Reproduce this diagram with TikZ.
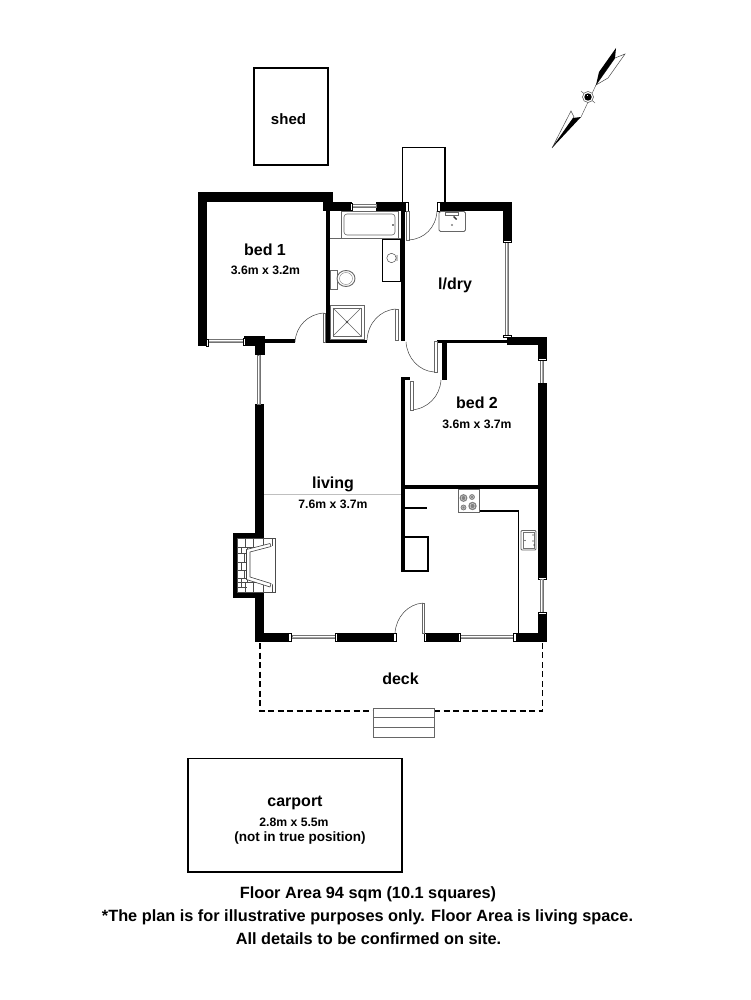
\documentclass[tikz,border=0pt]{standalone}
\usepackage{fontspec}
\setmainfont{Liberation Sans}
\tikzset{
  win/.style={draw=black!55,line width=0.7pt,fill=white},
  wcap/.style={draw=black,line width=0.5pt,fill=white},
  leaf/.style={draw=black!60,line width=0.6pt,fill=white},
  swing/.style={draw=black!75,line width=0.5pt},
  fixture/.style={draw=black!60,line width=0.9pt,fill=white},
  outline/.style={draw=black,line width=1.7pt},
  room/.style={font=\bfseries\fontsize{16}{18}\selectfont,inner sep=0pt,anchor=base},
  sub/.style={font=\bfseries\fontsize{12.2}{14}\selectfont,inner sep=0pt,anchor=base},
  foot/.style={font=\bfseries\fontsize{16.3}{18}\selectfont,inner sep=0pt,anchor=base},
  brick/.style={draw=black!70,line width=0.4pt}
}
\newcommand{\wallrect}[4]{\fill[black] (#1,#2) rectangle (#3,#4);}
\newcommand{\hwin}[3]{\draw[win] (#1,#3-1.6) rectangle (#2,#3+1.6);\draw[black!35,line width=0.3pt] (#1,#3) -- (#2,#3);}
\newcommand{\vwin}[3]{\draw[win] (#3-1.6,#1) rectangle (#3+1.6,#2);\draw[black!35,line width=0.3pt] (#3,#1) -- (#3,#2);}
\begin{document}
\begin{tikzpicture}[x=1pt,y=-1pt]
\useasboundingbox (0,0) rectangle (750,1000);
\fill[white] (0,0) rectangle (750,1000);
% shed and passage
\draw[outline] (254,68) rectangle (328,165);
\draw[line width=1.3pt] (402.5,202) -- (402.5,147.5) -- (445,147.5) -- (445,202);
% bed 1 walls
\wallrect{198}{192}{333}{202}
\wallrect{198}{192}{207}{346}
\wallrect{323}{202}{352}{211}
\wallrect{326}{202}{330}{343}
\wallrect{244}{336}{260}{346}
\wallrect{255}{336}{265}{355}
\wallrect{260}{339}{295}{343}
\wallrect{325}{339.5}{367}{343}
\hwin{208}{244}{341}
\draw[wcap] (206,339) rectangle (208.5,346);
\draw[wcap] (243,338) rectangle (245,345);
% top of bath / laundry
\wallrect{376}{202}{405}{211}
\hwin{352}{376}{206}
\draw[wcap] (350.5,203) rectangle (352.5,210);
\draw[wcap] (405,202) rectangle (408,211);
\wallrect{437}{202}{512}{211}
\draw[wcap] (437,202) rectangle (440,211);
\wallrect{503}{202}{512}{240}
\vwin{241}{335}{507}
\draw[wcap] (503,240) rectangle (511,242);
\draw[wcap] (503,335) rectangle (511,337);
% centre wall
\wallrect{400.5}{202}{404.5}{341}
\wallrect{401}{377}{405}{572}
\wallrect{401}{377}{410}{380}
% laundry / bed 2 walls
\wallrect{437}{340}{507}{343}
\wallrect{507}{337}{547}{345}
\wallrect{538}{337}{547}{358}
\wallrect{442}{341}{447}{380}
\vwin{359}{383}{542}
\draw[wcap] (538,358) rectangle (546,360);
\wallrect{538}{383}{547}{578}
\draw[wcap] (538,577) rectangle (546,579);
\vwin{579}{613}{542}
\draw[wcap] (538,612) rectangle (546,614);
\wallrect{538}{614}{547}{642}
% kitchen
\wallrect{401}{485}{538}{489}
\wallrect{405}{507}{427}{509}
\draw[line width=2pt] (405,537) -- (427.5,537) -- (427.5,570.5) -- (403,570.5);
\draw[line width=1.3pt] (479,489) -- (479,511) -- (518.5,511) -- (518.5,633);
% stove
\draw[fixture] (458,489.5) rectangle (479,512.5);
\foreach \cx/\cy/\r in {463.5/498/3.9,472/497/2.9,463.5/507.5/2.9,472.5/506/4.2}{
  \fill[black!50] (\cx,\cy) circle (\r);
  \draw[white,line width=0.3pt] (\cx,\cy) circle (\r*0.6);
}
% sink kitchen
\draw[fixture,rounded corners=1pt] (521,530.5) rectangle (536,550);
\draw[black!55,line width=0.5pt] (523,532) rectangle (534.5,548.5);
\fill[black] (525,540.5) circle (0.6);
\fill[black] (533,535) circle (0.7) (533,541) circle (0.7) (534,545) circle (0.7);
% left wall + fireplace
\wallrect{255}{404}{264}{642}
\vwin{355}{404}{259}
\wallrect{232.5}{532.5}{255}{598}
\wallrect{255}{633}{291}{642}
\draw[fill=white,draw=black!70,line width=0.6pt] (237.5,538) rectangle (275,592);
\foreach \y in {547,553,562,570,578,587}{\draw[brick] (237.5,\y) -- (247,\y);}
\foreach \x in {245,253,263,272}{\draw[brick] (\x,538) -- (\x,548);\draw[brick] (\x,582) -- (\x,592);}
\draw[brick] (241,547) -- (241,553) (244,553) -- (244,562) (241,562) -- (241,570) (244,570) -- (244,578) (241,578) -- (241,587);
\draw[brick] (237.5,547) -- (270,547) (237.5,582) -- (275,582);
\draw[brick] (247,548) -- (247,582);
\fill[white] (248,552) -- (275,545.5) -- (275,585) -- (248,577) -- cycle;
\draw[draw=black!75,line width=0.6pt,fill=white] (246.5,549.5) -- (270,543.5) -- (271,546.5) -- (250,552) -- (250,577) -- (271,583.5) -- (270,587) -- (246.5,579.5) -- cycle;
\draw[draw=black!70,line width=0.6pt] (275,538) -- (275,592);
% bottom walls and windows
\hwin{292}{335}{637}
\draw[wcap] (288.5,633) rectangle (291,641);
\draw[wcap] (335,633) rectangle (337.5,641);
\wallrect{337}{633}{395}{642}
\draw[wcap] (393,633) rectangle (396,641);
\wallrect{425}{633}{458}{642}
\draw[wcap] (424,633) rectangle (426.5,641);
\hwin{460}{513}{637}
\draw[wcap] (458,633) rectangle (460,641);
\draw[wcap] (513,633) rectangle (516,641);
\wallrect{516}{633}{547}{642}
% doors
\draw[swing] (295,342) .. controls (296,326) and (308,314) .. (324,313);
\draw[leaf] (323.5,313) rectangle (325.5,342);
\draw[swing] (367,340) .. controls (368,323) and (380,310) .. (396,309);
\draw[leaf] (395.5,309) rectangle (398,340);
\draw[leaf] (406,211) rectangle (409,240);
\draw[swing] (409,240) .. controls (424,239) and (436,228) .. (437,211);
\draw[swing] (406,342) .. controls (407,358) and (419,371) .. (434,372);
\draw[leaf] (434,341) rectangle (437,372);
\draw[swing] (441,380) .. controls (440,396) and (428,409) .. (411,410);
\draw[leaf] (410,381) rectangle (413,410);
\draw[swing] (395,633) .. controls (396,617) and (408,604) .. (423,603);
\draw[leaf] (422,603) rectangle (424.5,633);
% bathroom fixtures
\draw[fixture] (341,211.5) rectangle (398,238);
\draw[black!60,line width=0.6pt] (330,238) -- (400.5,238);
\draw[black!60,line width=0.6pt,rounded corners=3pt] (344,214) rectangle (395,235);
\fill[black] (393,225) circle (0.8);
\draw[black,line width=1.2pt] (382.5,239.5) rectangle (401,281.5);
\draw[black!70,line width=0.5pt] (391.5,258) circle (4.7);
\fill[black] (397,256) circle (0.7) (397,258) circle (0.7) (397,260) circle (0.7);
\draw[fixture] (330,270) rectangle (337,289);
\draw[fixture] (346,278.5) ellipse (9 and 8);
\draw[black!50,line width=0.4pt] (346,278.5) ellipse (6.5 and 6);
\draw[fixture] (330.5,305) rectangle (364,339);
\draw[black!60,line width=0.5pt] (333,308) rectangle (361,336);
\draw[black!60,line width=0.4pt] (333,308) -- (361,336) (361,308) -- (333,336);
\fill[black!70] (347,322) circle (1.3);
% laundry sink
\draw[fixture,rounded corners=1.5pt] (439,211.5) rectangle (465.5,231.5);
\draw[black!60,line width=0.5pt] (445,212) rectangle (458,215);
\fill[black!80] (454,216) -- (457,219) -- (456,220) -- (453,217) -- cycle;
\fill[black!50] (452,225) circle (1.2);
% living thin line
\draw[black!25,line width=0.4pt] (264,494) -- (401,494);
% deck
\draw[black,line width=1.4pt,dash pattern=on 6pt off 3.5pt] (260,643) -- (260,711) -- (373,711);
\draw[black,line width=1.4pt,dash pattern=on 6pt off 3.5pt] (434,711) -- (542.5,711) -- (542.5,643);
\draw[black!60,line width=1pt,fill=white] (373.5,708.5) rectangle (434,737.5);
\draw[black!60,line width=1pt] (373.5,717.5) -- (434,717.5) (373.5,727.5) -- (434,727.5);
% carport
\draw[outline] (188,758.5) rectangle (402,872);
% compass
\draw[black!70,line width=0.4pt] (581,117) -- (596,85);
\draw[black!70,line width=0.5pt,fill=white] (625,54) -- (608,78) -- (596,85) -- (615,58) -- cycle;
\fill[black] (616,48) -- (599,72) -- (596,85) -- (615,58) -- cycle;
\draw[black!70,line width=0.5pt,fill=white] (552,148) -- (571,111) -- (574,117) -- cycle;
\fill[black] (552,148) -- (581,117) -- (573,118) -- cycle;
\draw[black!70,line width=0.4pt] (581,91) -- (595,103);
\draw[black!70,line width=0.5pt,fill=white] (588,97) circle (5.5);
\fill[black] (588,97) circle (3.7);
\fill[white] (586.5,95) rectangle (588,96.5);
% text
\node[sub,font=\bfseries\fontsize{15}{17}\selectfont] (shedlbl) at (288.5,125) {shed};
\node[room] (bedone) at (265,255) {bed 1};
\node[sub] (bedonedim) at (265.5,274) {3.6m x 3.2m};
\node[room] (ldry) at (455,289) {l/dry};
\node[room] (bedtwo) at (477,408.5) {bed 2};
\node[sub] (bedtwodim) at (477,428) {3.6m x 3.7m};
\node[room] (living) at (333,488) {living};
\node[sub] (livingdim) at (333,508) {7.6m x 3.7m};
\node[room] (deck) at (400.5,684) {deck};
\node[room] (carport) at (295,806.5) {carport};
\node[sub] (cardim) at (294,826) {2.8m x 5.5m};
\node[sub,font=\bfseries\fontsize{13.5}{15}\selectfont] (carnote) at (300,841.5) {(not in true position)};
\node[foot] (f1) at (368,898) {Floor Area 94 sqm (10.1 squares)};
\node[foot] (f2) at (367.5,921.5) {*The plan is for illustrative purposes only. Floor Area is living space.};
\node[foot] (f3) at (368.5,944) {All details to be confirmed on site.};
\end{tikzpicture}
\end{document}
